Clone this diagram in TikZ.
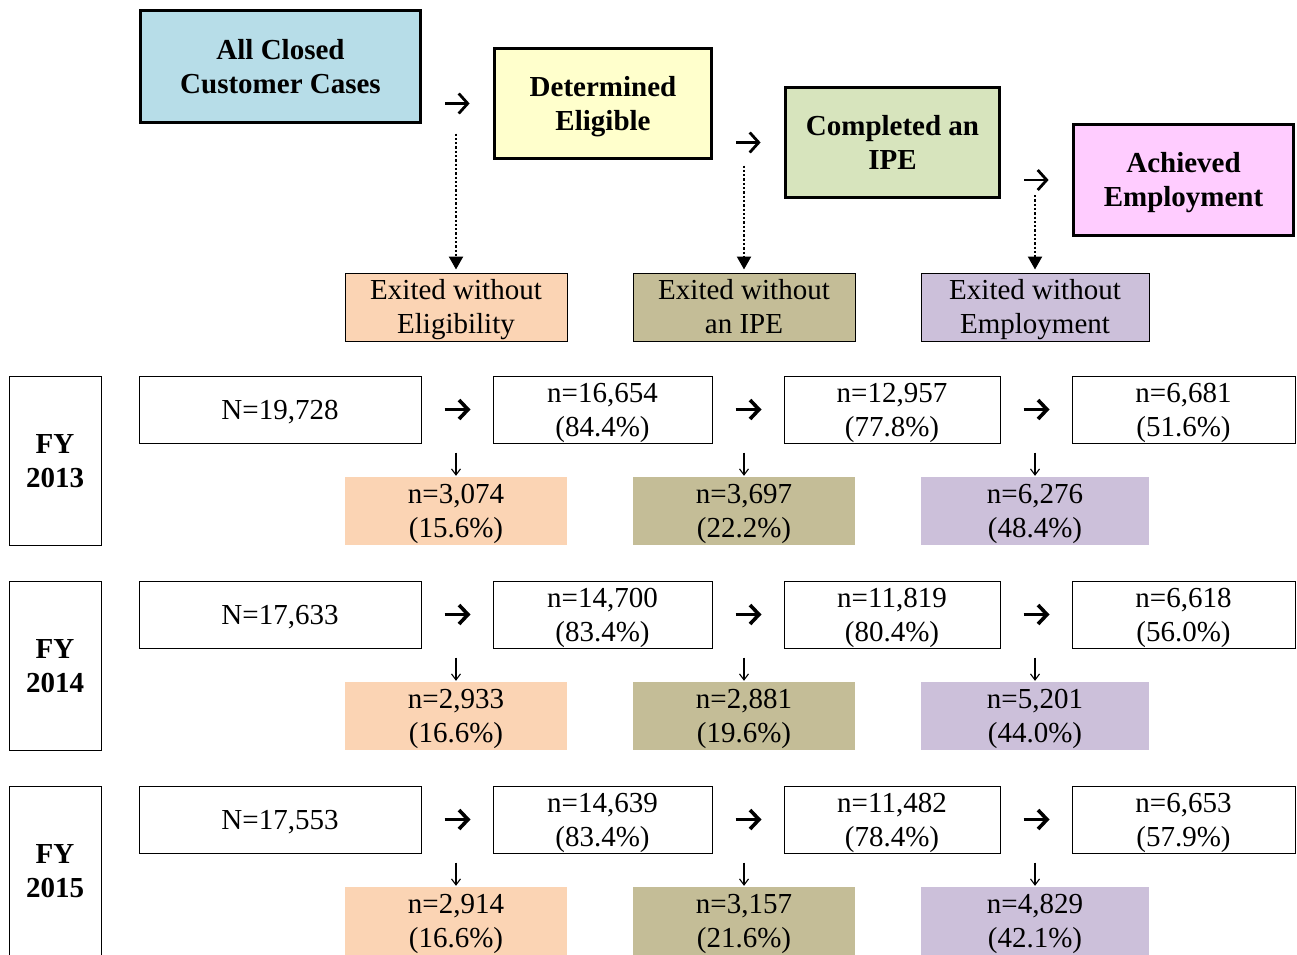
\documentclass[tikz,border=0pt]{standalone}
\usepackage{fontspec}
\setmainfont{Liberation Serif}
\usetikzlibrary{arrows.meta}
\definecolor{closedblue}{HTML}{B7DDE8}
\definecolor{eligyellow}{HTML}{FFFFCC}
\definecolor{ipegreen}{HTML}{D7E4BD}
\definecolor{jobpink}{HTML}{FFCCFF}
\definecolor{noelig}{HTML}{FBD4B4}
\definecolor{noipe}{HTML}{C4BD97}
\definecolor{nojob}{HTML}{CCC0DA}
\begin{document}
\begin{tikzpicture}[x=1pt, y=-1pt,
    every node/.style={font=\fontsize{29}{34}\selectfont, align=center, inner sep=0pt,
        text height=60pt, text depth=6.5pt},
    stage/.style={draw, line width=3.8pt, font=\fontsize{29}{34}\selectfont\bfseries},
    count/.style={draw, line width=1pt, minimum height=67pt},
    yearbox/.style={draw, line width=1pt, minimum width=92pt, minimum height=169pt,
        font=\fontsize{29}{34}\selectfont\bfseries},
    allbox/.style={count, minimum width=282pt, text height=26pt},
    eligbox/.style={count, minimum width=219pt},
    ipebox/.style={count, minimum width=216pt},
    jobbox/.style={count, minimum width=223pt},
    noeligbox/.style={fill=noelig, minimum width=222pt, minimum height=68pt},
    noipebox/.style={fill=noipe, minimum width=222pt, minimum height=68pt},
    nojobbox/.style={fill=nojob, minimum width=228pt, minimum height=68pt},
    headfwd/.style={line width=2.8pt, -{Straight Barb[length=9pt,width=20pt]},
        shorten <=23pt, shorten >=23pt},
    fwd/.style={line width=3.6pt, -{Straight Barb[length=9pt,width=19pt]},
        shorten <=23pt, shorten >=22pt},
    drop/.style={dotted, line width=2.3pt, -{Triangle[length=13pt,width=14pt]},
        shorten >=3pt},
    down/.style={line width=1.1pt, -{Straight Barb[length=6pt,width=9pt]},
        shorten <=9pt, shorten >=1pt}]
    \useasboundingbox (0,0) rectangle (1297,954);
    \clip (0,0) rectangle (1297,954);
    % stages
    \node[stage, fill=closedblue, minimum width=280pt, minimum height=112pt] (hA) at (280.5,66.5) {All Closed\\Customer Cases};
    \node[stage, fill=eligyellow, minimum width=217pt, minimum height=110pt] (hB) at (603,103.5) {Determined\\Eligible};
    \node[stage, fill=ipegreen, minimum width=214pt, minimum height=110pt] (hC) at (892.5,142.5) {Completed an\\IPE};
    \node[stage, fill=jobpink, minimum width=220pt, minimum height=111pt] (hD) at (1183.5,180) {Achieved\\Employment};
    \node[noeligbox, draw, line width=1pt] (eA) at (456,307) {Exited without\\Eligibility};
    \node[noipebox, draw, line width=1pt] (eB) at (744,307) {Exited without\\an IPE};
    \node[nojobbox, draw, line width=1pt] (eC) at (1035,307) {Exited without\\Employment};
    \draw[headfwd] (hA.east |- hB.west) -- (hB.west);
    \draw[headfwd] (hB.east |- hC.west) -- (hC.west);
    \draw[headfwd] (hC.east |- hD.west) -- (hD.west);
    \draw[drop, shorten <=30pt] (eA.north |- hB.west) -- (eA.north);
    \draw[drop, shorten <=23pt] (eB.north |- hC.west) -- (eB.north);
    \draw[drop, shorten <=15pt] (eC.north |- hD.west) -- (eC.north);
    % FY 2013
    \node[yearbox] (fy13) at (55,460.5) {FY\\2013};
    \node[allbox] (n13a) at (280,409.5) {N=19,728};
    \node[eligbox] (n13b) at (602.5,409.5) {n=16,654\\(84.4\%)};
    \node[ipebox] (n13c) at (892,409.5) {n=12,957\\(77.8\%)};
    \node[jobbox] (n13d) at (1183.5,409.5) {n=6,681\\(51.6\%)};
    \node[noeligbox] (x13a) at (456,511) {n=3,074\\(15.6\%)};
    \node[noipebox] (x13b) at (744,511) {n=3,697\\(22.2\%)};
    \node[nojobbox] (x13c) at (1035,511) {n=6,276\\(48.4\%)};
    \draw[fwd] (n13a.east) -- (n13b.west);
    \draw[fwd] (n13b.east) -- (n13c.west);
    \draw[fwd] (n13c.east) -- (n13d.west);
    \draw[down] (x13a.north |- n13a.south) -- (x13a.north);
    \draw[down] (x13b.north |- n13a.south) -- (x13b.north);
    \draw[down] (x13c.north |- n13a.south) -- (x13c.north);
    % FY 2014
    \node[yearbox] (fy14) at (55,665.5) {FY\\2014};
    \node[allbox] (n14a) at (280,614.5) {N=17,633};
    \node[eligbox] (n14b) at (602.5,614.5) {n=14,700\\(83.4\%)};
    \node[ipebox] (n14c) at (892,614.5) {n=11,819\\(80.4\%)};
    \node[jobbox] (n14d) at (1183.5,614.5) {n=6,618\\(56.0\%)};
    \node[noeligbox] (x14a) at (456,716) {n=2,933\\(16.6\%)};
    \node[noipebox] (x14b) at (744,716) {n=2,881\\(19.6\%)};
    \node[nojobbox] (x14c) at (1035,716) {n=5,201\\(44.0\%)};
    \draw[fwd] (n14a.east) -- (n14b.west);
    \draw[fwd] (n14b.east) -- (n14c.west);
    \draw[fwd] (n14c.east) -- (n14d.west);
    \draw[down] (x14a.north |- n14a.south) -- (x14a.north);
    \draw[down] (x14b.north |- n14a.south) -- (x14b.north);
    \draw[down] (x14c.north |- n14a.south) -- (x14c.north);
    % FY 2015
    \node[yearbox] (fy15) at (55,870.5) {FY\\2015};
    \node[allbox] (n15a) at (280,819.5) {N=17,553};
    \node[eligbox] (n15b) at (602.5,819.5) {n=14,639\\(83.4\%)};
    \node[ipebox] (n15c) at (892,819.5) {n=11,482\\(78.4\%)};
    \node[jobbox] (n15d) at (1183.5,819.5) {n=6,653\\(57.9\%)};
    \node[noeligbox] (x15a) at (456,921) {n=2,914\\(16.6\%)};
    \node[noipebox] (x15b) at (744,921) {n=3,157\\(21.6\%)};
    \node[nojobbox] (x15c) at (1035,921) {n=4,829\\(42.1\%)};
    \draw[fwd] (n15a.east) -- (n15b.west);
    \draw[fwd] (n15b.east) -- (n15c.west);
    \draw[fwd] (n15c.east) -- (n15d.west);
    \draw[down] (x15a.north |- n15a.south) -- (x15a.north);
    \draw[down] (x15b.north |- n15a.south) -- (x15b.north);
    \draw[down] (x15c.north |- n15a.south) -- (x15c.north);
\end{tikzpicture}
\end{document}
